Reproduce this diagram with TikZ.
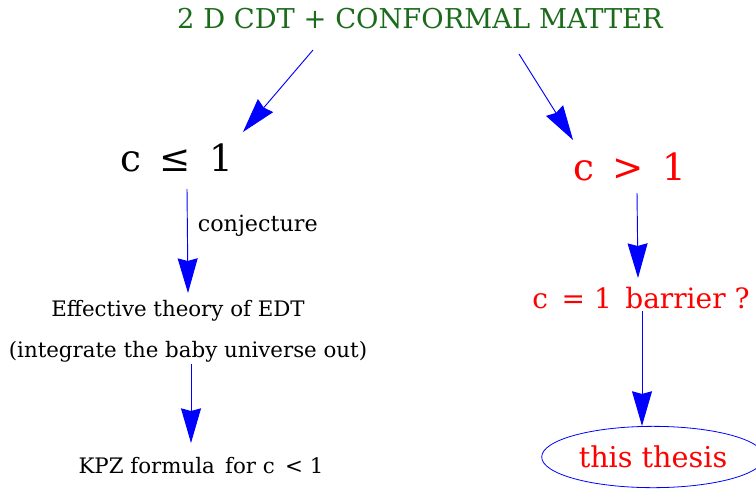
\documentclass[tikz,border=0pt]{standalone}
\usepackage{fontspec}
\setmainfont{DejaVu Serif}
\usetikzlibrary{arrows.meta, calc, shapes.geometric}
\definecolor{titlegreen}{HTML}{1B6B1B}

\begin{document}
\begin{tikzpicture}[
  x=0.75pt, y=-0.75pt,
  head/.style={font=\fontsize{20.5}{24}\selectfont, text=titlegreen, inner sep=0pt},
  big/.style={font=\fontsize{28}{32}\selectfont, inner sep=0pt},
  txt/.style={font=\fontsize{16}{19}\selectfont, inner sep=0pt},
  redtxt/.style={font=\fontsize{21}{25}\selectfont, text=red, inner sep=0pt},
  oval/.style={ellipse, draw=blue, line width=0.6pt, minimum width=158pt, minimum height=46pt},
  arr/.style={-{Stealth[length=26pt, width=15pt, inset=2pt]}, blue, line width=0.7pt}
]
\useasboundingbox (0,0) rectangle (756,489);

\node[head] (title) at (420,19) {2 D CDT + CONFORMAL MATTER};

\node[big] (le) at (177,158) {c \,≤\, 1};
\node[big, text=red] (gt) at (630,167) {c \,>\, 1};

\node[txt] (edt) at (178,311) {Effective theory of EDT};
\node[txt] (integ) at (188,352) {(integrate the baby universe out)};
\node[txt] (kpz) at (201,466) {KPZ formula \,for c \,< 1};

\node[redtxt] (barrier) at (641,298) {c \,= 1 \,barrier ?};
\node[oval, text=red, font=\fontsize{21.5}{25}\selectfont] (thesis) at (653,457) {this thesis};

% left branch
\draw[arr] ($(title)+(-107,31)$) -- ($(le)+(66,-26)$);
\draw[arr] ($(le)+(10,31)$) -- node[pos=0.35, anchor=west, xshift=7.5pt, txt, text=black, font=\fontsize{16.7}{19}\selectfont]{conjecture} ($(edt)+(10,-18)$);
\draw[arr] ($(integ)+(3,12)$) -- ($(kpz)+(-10,-23)$);

% right branch
\draw[arr] ($(title)+(99,35)$) -- ($(gt)+(-57,-27)$);
\draw[arr] ($(gt)+(7,26)$) -- ($(barrier)+(-3,-20)$);
\draw[arr] ($(barrier)+(1,13)$) -- ($(thesis.north)+(-11,0)$);
\end{tikzpicture}
\end{document}
